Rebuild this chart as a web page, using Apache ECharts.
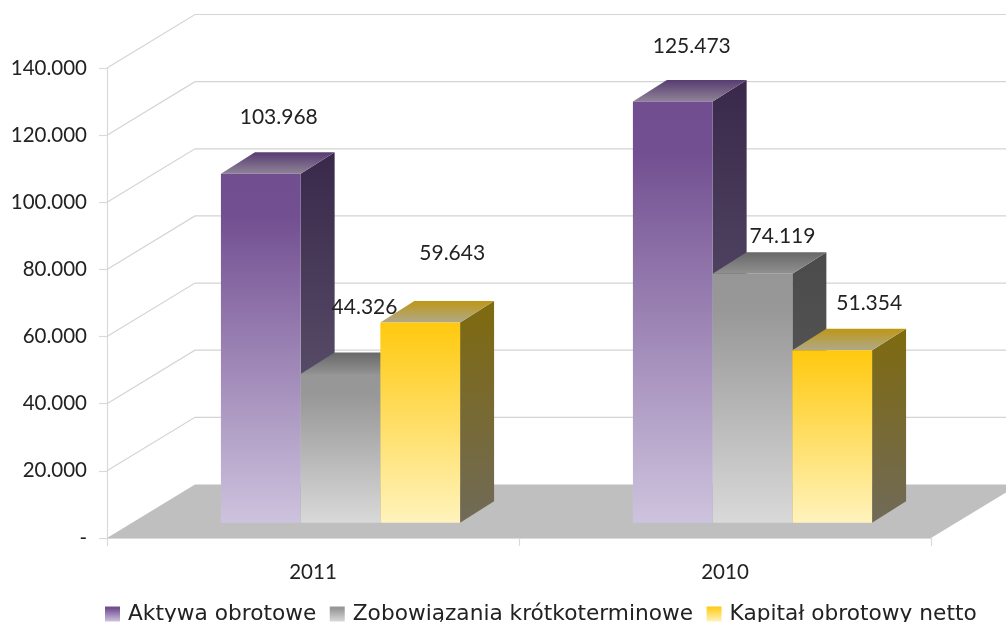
<!DOCTYPE html>
<html><head><meta charset="utf-8">
<style>html,body{margin:0;padding:0;background:#fff;overflow:hidden}#c{width:1006px;height:622px}</style>
<script src="https://cdn.jsdelivr.net/npm/echarts@6/dist/echarts.min.js"></script>
</head><body><div id="c"></div>
<script>
const categories = ['2011', '2010'];
const aktywa = [103968, 125473];
const zobowiazania = [44326, 74119];
const kapital = [59643, 51354];
const seriesNames = ['Aktywa obrotowe', 'Zobowiązania krótkoterminowe', 'Kapitał obrotowy netto'];
const axisTicks = [0, 20000, 40000, 60000, 80000, 100000, 120000, 140000];

const FONT = 'Lato';
const LEGEND_FONT = '"DejaVu Sans"';
const TXT = '#222222';
const WALL = [88, -53.5];      // depth of the floor
const FRONT = [27.5, -15.3];   // where the bars stand on the floor
const SIDE = [34, -21.5];      // depth of a bar
const BAR_SHARE = 0.1935;      // bar width / category band
// label nudges relative to bar top centre: [dx, dy] per series per category
const LABEL_NUDGE = [
  [[18, -56], [19, -55]],
  [[24, -67], [30, -38]],
  [[32, -69], [37, -47]]
];
const grad = (stops, x2 = 0, y2 = 1) => new echarts.graphic.LinearGradient(0, 0, x2, y2,
  stops.map(s => ({ offset: s[0], color: s[1] })));
const PALETTE = [
  { front: [[0, '#714E90'], [0.12, '#724F91'], [1, '#CEC3DE']],
    side: [[0, '#39284A'], [1, '#69627A']],
    top: [[0, '#573C72'], [1, '#8F8396']] },
  { front: [[0, '#969696'], [0.15, '#989898'], [1, '#D9D9D9']],
    side: [[0, '#4B4B4B'], [1, '#5C5C5C']],
    top: [[0, '#686868'], [1, '#919191']] },
  { front: [[0, '#FFC90E'], [1, '#FFF3BC']],
    side: [[0, '#7F6A0E'], [1, '#706A58']],
    top: [[0, '#BE9715'], [1, '#AFA98A']] }
];

function barSeries(name, values, idx) {
  const pal = PALETTE[idx];
  return {
    name, type: 'custom', coordinateSystem: 'cartesian2d', z: 3,
    itemStyle: { color: grad(pal.front) },
    encode: { x: 0, y: 1 },
    data: values.map((v, i) => [categories[i], v]),
    renderItem(params, api) {
      const cat = api.value(0), val = api.value(1);
      const base = api.coord([cat, 0]), top = api.coord([cat, val]);
      const w = api.size([1, 0])[0] * BAR_SHARE;
      const x0 = base[0] + FRONT[0] + (idx - 1.5) * w;
      const x1 = x0 + w;
      const yb = base[1] + FRONT[1], yt = top[1] + FRONT[1];
      const nudge = LABEL_NUDGE[idx][params.dataIndex];
      const poly = (pts, stops, extra) => Object.assign({
        type: 'polygon', shape: { points: pts },
        style: { fill: grad(stops) }
      }, extra || {});
      return {
        type: 'group',
        children: [
          poly([[x1, yt], [x1 + SIDE[0], yt + SIDE[1]], [x1 + SIDE[0], yb + SIDE[1]], [x1, yb]], pal.side),
          poly([[x0, yt], [x0 + SIDE[0], yt + SIDE[1]], [x1 + SIDE[0], yt + SIDE[1]], [x1, yt]], pal.top),
          poly([[x0, yt], [x1, yt], [x1, yb], [x0, yb]], pal.front),
          {
            type: 'text', z2: 100,
            style: {
              text: String(val).replace(/\B(?=(\d{3})+$)/g, '.'),
              x: (x0 + x1) / 2 + nudge[0], y: yt + nudge[1],
              fill: TXT, font: '21px ' + FONT, align: 'center', verticalAlign: 'middle'
            }
          }
        ]
      };
    }
  };
}

const wallSeries = {
  type: 'custom', coordinateSystem: 'cartesian2d', z: 1, silent: true,
  encode: { x: 0, y: 1 },
  data: axisTicks.map(v => [categories[0], v]),
  renderItem(params, api) {
    const val = api.value(1);
    const p = api.coord([api.value(0), val]);
    const band = api.size([1, 0])[0];
    const xl = p[0] - band / 2, xr = xl + 2 * band;
    if (val === 0) {
      return {
        type: 'polygon',
        shape: { points: [[xl, p[1]], [xl + WALL[0], p[1] + WALL[1]], [xr + WALL[0], p[1] + WALL[1]], [xr, p[1]]] },
        style: { fill: '#BFBFBF' }
      };
    }
    return {
      type: 'polyline',
      shape: { points: [[xl, p[1]], [xl + WALL[0], p[1] + WALL[1]], [xr + WALL[0], p[1] + WALL[1]]] },
      style: { stroke: '#D4D4D4', lineWidth: 1.2, fill: null }
    };
  }
};

const chart = echarts.init(document.getElementById('c'), null, { renderer: 'canvas' });
chart.setOption({
  animation: false,
  backgroundColor: '#fff',
  grid: { left: 107, right: 75, top: 68, bottom: 84 },
  legend: {
    left: 105, top: 603, padding: 0, itemWidth: 15, itemHeight: 15, itemGap: 13.5, icon: 'rect',
    data: seriesNames,
    textStyle: { fontFamily: LEGEND_FONT, fontSize: 21.7, color: TXT, padding: [0, 0, 0, 3] }
  },
  xAxis: {
    type: 'category', data: categories,
    axisLine: { lineStyle: { color: '#DADADA', width: 1.2 } },
    axisTick: { show: true, length: 8, lineStyle: { color: '#DADADA', width: 1.2 } },
    axisLabel: { fontFamily: FONT, fontSize: 20.5, color: TXT, margin: 24 },
    splitLine: { show: false }
  },
  yAxis: {
    type: 'value', min: 0, max: 140000, interval: 20000,
    axisLine: { show: true, lineStyle: { color: '#DADADA', width: 1.2 } },
    axisTick: { show: true, length: 8, lineStyle: { color: '#DADADA', width: 1.2 } },
    axisLabel: {
      fontFamily: FONT, fontSize: 20.5, color: TXT, margin: 20, padding: [0, 0, 2, 0],
      formatter: v => v === 0 ? '-' : String(v).replace(/\B(?=(\d{3})+$)/g, '.')
    },
    splitLine: { show: false }
  },
  series: [
    wallSeries,
    barSeries(seriesNames[0], aktywa, 0),
    barSeries(seriesNames[1], zobowiazania, 1),
    barSeries(seriesNames[2], kapital, 2)
  ]
});
</script></body></html>
